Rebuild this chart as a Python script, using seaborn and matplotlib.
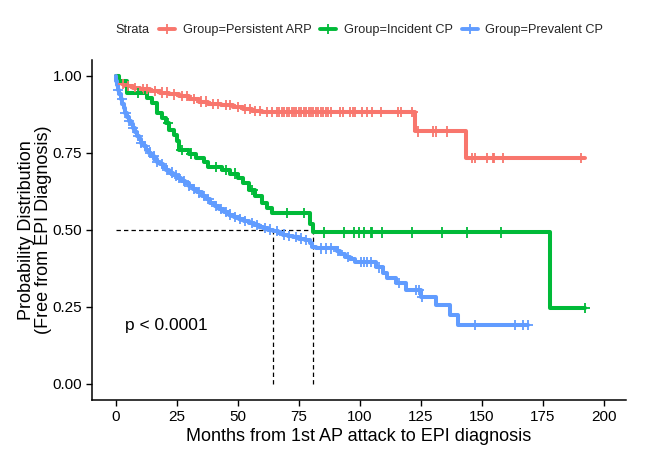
import numpy as np
import pandas as pd
import matplotlib
matplotlib.use("Agg")
import matplotlib.pyplot as plt
from matplotlib.lines import Line2D
import seaborn as sns

groups = ["Group=Persistent ARP", "Group=Incident CP", "Group=Prevalent CP"]
colors = ["#F8766D", "#00BA38", "#619CFF"]

# Kaplan-Meier step points (time in months, survival after the step)
red_t = [0, 1, 2.5, 4, 7, 10, 14, 18, 22, 26, 30, 34, 38, 43, 48, 52, 56, 60, 122.5, 143.5, 192]
red_s = [1.0, 0.985, 0.975, 0.968, 0.962, 0.957, 0.952, 0.946, 0.94, 0.934, 0.926, 0.917, 0.910, 0.905, 0.900,
         0.893, 0.887, 0.882, 0.82, 0.733, 0.733]

green_t = [0, 1.5, 4.5, 13, 15, 17, 19, 20.5, 22, 24, 25, 26, 30, 33, 36, 38, 43.5, 47, 50, 52, 54.5, 57, 60,
           62, 64, 79.5, 81, 178, 192]
green_s = [1.0, 0.985, 0.945, 0.93, 0.912, 0.88, 0.863, 0.847, 0.825, 0.808, 0.79, 0.76, 0.748, 0.733, 0.72,
           0.705, 0.695, 0.683, 0.67, 0.652, 0.63, 0.61, 0.588, 0.572, 0.555, 0.52, 0.492, 0.246, 0.246]

blue_t = [0, 0.3, 0.6, 1.0, 1.5, 2.0, 2.6, 3.2, 3.9, 4.6, 5.4, 6.2, 7.0, 7.8, 8.7, 9.6, 10.5, 11.5, 12.5, 13.5,
          14.6, 15.7, 16.8, 18.0, 19.2, 20.5, 22.0, 23.5, 25.0, 26.6, 28.2, 30.0, 31.8, 33.5, 35.3, 37.0, 38.8,
          40.5, 42.5, 44.5, 46.5, 48.5, 50.5, 52.5, 54.5, 56.5, 58.5, 60.5, 62.5, 64.3, 66.5, 68.5, 70.5, 72.5,
          75.0, 77.5, 79.5, 80.5, 82.0, 90.5, 92.0, 94.0, 96.0, 98.0, 106.5, 109.5, 111.0, 114.7, 119.0, 125.0,
          131.0, 137.0, 140.0, 169.0]
blue_s = [1.0, 0.985, 0.97, 0.955, 0.94, 0.925, 0.91, 0.895, 0.88, 0.867, 0.855, 0.843, 0.83, 0.818, 0.806,
          0.794, 0.783, 0.772, 0.761, 0.751, 0.741, 0.731, 0.722, 0.713, 0.704, 0.695, 0.686, 0.677, 0.668, 0.66,
          0.651, 0.642, 0.633, 0.622, 0.611, 0.6, 0.589, 0.578, 0.568, 0.559, 0.55, 0.542, 0.535, 0.528, 0.522,
          0.516, 0.511, 0.506, 0.501, 0.496, 0.49, 0.485, 0.48, 0.476, 0.472, 0.467, 0.458, 0.445, 0.44, 0.432,
          0.422, 0.412, 0.404, 0.396, 0.378, 0.36, 0.345, 0.328, 0.305, 0.282, 0.256, 0.224, 0.192, 0.192]

# Censoring times
red_c = [3, 5, 8, 11, 13, 16, 19, 21, 24, 27, 29, 32, 35, 37, 40, 42, 45, 47, 50, 53, 55, 57, 59, 62, 64, 66,
         67, 68, 69, 70, 71, 72, 73, 74, 75, 76, 77, 78, 79, 80, 81, 82, 83, 84, 85, 86, 87, 88, 92, 93, 96, 97,
         98, 101, 103, 105, 108.7, 115.5, 117, 121.5, 124, 130, 131, 135.5, 146, 147, 152, 154.5, 155, 158.6, 190.5]
green_c = [9, 21.5, 27, 31, 41, 45, 49, 56, 70, 77, 85.2, 93.4, 97.5, 99.8, 101.8, 104.5, 105, 109, 121.5,
           133.6, 144, 157.8, 192]
blue_c = [1, 2.5, 4, 5.5, 7, 9, 10.5, 12, 14, 15.5, 17, 19, 21, 23, 24.5, 26, 28, 30, 32, 34, 36, 38, 41, 43,
          45, 47, 49, 51, 53, 56, 58, 61, 63, 66, 69, 71, 74, 76, 78, 84, 86, 88, 91, 95, 100.3, 101.5, 103,
          104.5, 108, 116, 123, 124.2, 125.5, 147, 163.5, 167, 169]

medians = [64.5, 80.7]
pval_text = "p < 0.0001"

curves = [(red_t, red_s, red_c), (green_t, green_s, green_c), (blue_t, blue_s, blue_c)]

rows, crow = [], []
for g, (t, s, c) in zip(groups, curves):
    for ti, si in zip(t, s):
        rows.append((g, ti, si))
    t_arr = np.asarray(t)
    s_arr = np.asarray(s)
    for ci in c:
        idx = np.searchsorted(t_arr, ci, side="right") - 1
        crow.append((g, ci, s_arr[idx]))
df = pd.DataFrame(rows, columns=["strata", "time", "surv"])
dc = pd.DataFrame(crow, columns=["strata", "time", "surv"])

sns.set_theme(style="ticks")
plt.rcParams["font.family"] = ["Liberation Sans", "DejaVu Sans"]

fig = plt.figure(figsize=(6.54, 4.76), dpi=100)
ax = fig.add_axes([0.1407, 0.160, 0.9572 - 0.1407, 0.874 - 0.160])

pal = dict(zip(groups, colors))
for g in groups:
    sub = df[df.strata == g]
    ax.step(sub.time, sub.surv, where="post", color=pal[g], lw=2.9, zorder=3)
sns.scatterplot(data=dc, x="time", y="surv", hue="strata", palette=pal, marker="+", s=55,
                linewidth=1.3, legend=False, ax=ax, zorder=4)

# median lines
ax.plot([0, medians[1]], [0.5, 0.5], ls=(0, (3.5, 2.5)), color="black", lw=0.9, zorder=2)
for m in medians:
    ax.plot([m, m], [0, 0.5], ls=(0, (3.5, 2.5)), color="black", lw=0.9, zorder=2)

ax.text(3.8, 0.19, pval_text, fontsize=12.5, ha="left", va="center", color="black")

ax.set_xlim(-9.7, 209)
ax.set_ylim(-0.052, 1.052)
ax.set_xticks([0, 25, 50, 75, 100, 125, 150, 175, 200])
ax.set_yticks([0, 0.25, 0.5, 0.75, 1.0])
ax.set_yticklabels(["0.00", "0.25", "0.50", "0.75", "1.00"])
ax.tick_params(axis="both", labelsize=11, colors="black", length=4, width=1.0, pad=3)
for sp in ["top", "right"]:
    ax.spines[sp].set_visible(False)
for sp in ["left", "bottom"]:
    ax.spines[sp].set_linewidth(1.1)
    ax.spines[sp].set_color("black")
ax.grid(False)
ax.set_xlabel("Months from 1st AP attack to EPI diagnosis", fontsize=13, color="black", va="center")
ax.set_ylabel("Probability Distribution\n(Free from EPI Diagnosis)", fontsize=13, color="black",
              linespacing=1.0, va="center")
ax.xaxis.set_label_coords(0.5, -0.109)
ax.yaxis.set_label_coords(-0.107, 0.5)

handles = [Line2D([0], [0], color=c, lw=2.8, marker="+", markersize=7, markeredgewidth=1.3) for c in colors]
fig.text(0.177, 0.937, "Strata", fontsize=9.2, ha="left", va="center")
fig.legend(handles, groups, loc="center left", bbox_to_anchor=(0.243, 0.937), ncol=3, frameon=False,
           fontsize=9.2, handlelength=1.25, handletextpad=0.6, columnspacing=0.7, borderpad=0, borderaxespad=0)

fig.savefig("out.png", dpi=100, facecolor="white")
